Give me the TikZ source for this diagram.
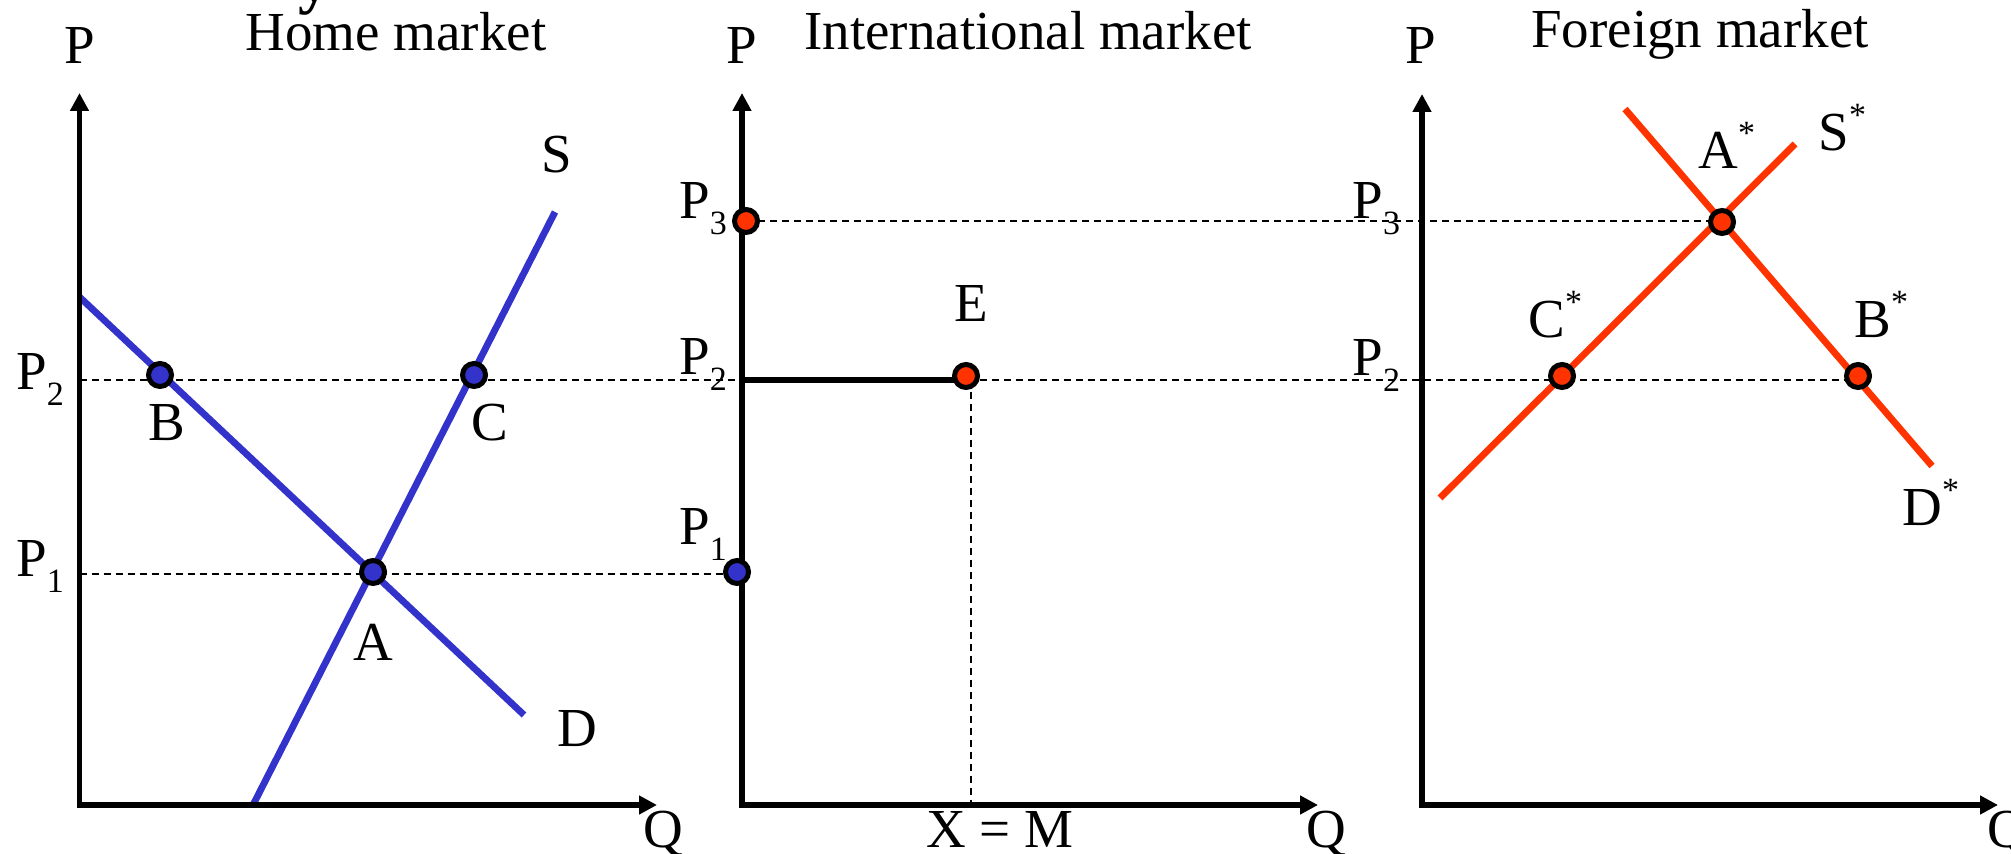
\documentclass[tikz,border=0pt]{standalone}
\usepackage{fontspec}
\setmainfont{Liberation Serif}
\usetikzlibrary{arrows.meta}
\newcommand\sbs[1]{\raisebox{-8pt}{\fontsize{17}{17}\selectfont #1}}
\newcommand\sps{\raisebox{12pt}{\fontsize{17}{17}\selectfont *}}
\definecolor{myblue}{RGB}{51,51,204}
\definecolor{myred}{RGB}{255,51,0}
\begin{document}
\begin{tikzpicture}[x=0.5pt,y=-0.5pt,
  lbl/.style={inner sep=0pt, font=\fontsize{27.5}{30}\selectfont},
  axisln/.style={line width=2.7pt, {Triangle[length=9pt,width=9pt]}-{Triangle[length=9pt,width=9pt]}},
  dashln/.style={line width=1pt, dash pattern=on 3.5pt off 2.5pt},
  bluecurve/.style={line width=3.4pt, draw=myblue},
  redcurve/.style={line width=3.4pt, draw=myred},
  dotb/.style={circle, draw=black, line width=2.5pt, fill=myblue, minimum size=11.5pt, inner sep=0pt},
  dotr/.style={circle, draw=black, line width=2.5pt, fill=myred, minimum size=11.5pt, inner sep=0pt}]
\fill[white] (0,0) rectangle (2011,854);
\useasboundingbox (0,0) rectangle (2011,854);

% title fragment
\node[lbl, anchor=base west, font=\fontsize{32}{32}\bfseries\selectfont] (frag) at (298,2) {y};

% axes coordinates
\coordinate (ho) at (79.5,805); \coordinate (htop) at (79.5,93); \coordinate (hq) at (657,805);
\coordinate (io) at (742,805); \coordinate (itop) at (742,93); \coordinate (iq) at (1318,805);
\coordinate (fo) at (1422,805); \coordinate (ftop) at (1422,94); \coordinate (fq) at (1998,805);

% price level coordinates
\coordinate (h2) at (79.5,380);
\coordinate (h1) at (79.5,574);
\coordinate (i2) at (742,380);
\coordinate (Ev) at (971,380);

% curve end points
\coordinate (Dh1) at (79.5,297); \coordinate (Dh2) at (524,715);
\coordinate (Sh1) at (253,805); \coordinate (Sh2) at (555,212);
\coordinate (Df1) at (1625,109); \coordinate (Df2) at (1932,466);
\coordinate (Sf1) at (1440,498); \coordinate (Sf2) at (1795,144);

% dot positions
\path (1858,376) coordinate (BsC);
\path (1722,222) coordinate (AsC);
\path (737,572) coordinate (P1iC);
\path (746,221) coordinate (P3iC);

% dashed lines
\draw[dashln] (h2) -- (h2 -| BsC);
\draw[dashln] (h1) -- (h1 -| P1iC);
\draw[dashln] (P3iC) -- (P3iC -| AsC);
\draw[dashln] (Ev) -- (Ev |- io);

% solid export line
\draw[line width=2.7pt] (i2) -- (Ev -| 966,0);

% curves
\draw[bluecurve] (Dh1) -- (Dh2);
\draw[bluecurve] (Sh1) -- (Sh2);
\draw[redcurve] (Df1) -- (Df2);
\draw[redcurve] (Sf1) -- (Sf2);

% axes
\draw[axisln] (htop) -- (ho) -- (hq);
\draw[axisln] (itop) -- (io) -- (iq);
\draw[axisln] (ftop) -- (fo) -- (fq);

% dots
\node[dotb] (B) at (160,375) {};
\node[dotb] (C) at (474,375) {};
\node[dotb] (A) at (373,572) {};
\node[dotb] (P1i) at (P1iC) {};
\node[dotr] (P3i) at (P3iC) {};
\node[dotr] (E) at (966,376) {};
\node[dotr] (As) at (AsC) {};
\node[dotr] (Cs) at (1562,376) {};
\node[dotr] (Bs) at (BsC) {};

% titles
\node[lbl, anchor=base] (th) at (396,51) {Home market};
\node[lbl, anchor=base] (ti) at (1028,50) {International market};
\node[lbl, anchor=base] (tf) at (1700,48) {Foreign market};

% axis labels
\node[lbl, anchor=base] (ph) at (80,64) {P};
\node[lbl, anchor=base] (pi) at (742,64) {P};
\node[lbl, anchor=base] (pf) at (1421,64) {P};
\node[lbl, anchor=base west] (qh) at (643,847) {Q};
\node[lbl, anchor=base west] (qi) at (1306,847) {Q};
\node[lbl, anchor=base west] (qf) at (1987,847) {Q};

% price labels
\node[lbl, anchor=base west] (lh2) at (16,390) {P\sbs{2}};
\node[lbl, anchor=base west] (lh1) at (16,577) {P\sbs{1}};
\node[lbl, anchor=base west] (li3) at (679,219) {P\sbs{3}};
\node[lbl, anchor=base west] (li2) at (679,375) {P\sbs{2}};
\node[lbl, anchor=base west] (li1) at (679,545) {P\sbs{1}};
\node[lbl, anchor=base west] (lf3) at (1352,219) {P\sbs{3}};
\node[lbl, anchor=base west] (lf2) at (1352,376) {P\sbs{2}};

% point labels
\node[lbl, anchor=base] (lS) at (557,173) {S};
\node[lbl, anchor=base] (lB) at (167,441) {B};
\node[lbl, anchor=base] (lC) at (490,441) {C};
\node[lbl, anchor=base] (lA) at (373,661) {A};
\node[lbl, anchor=base] (lD) at (577,746) {D};
\node[lbl, anchor=base] (lE) at (971,322) {E};
\node[lbl, anchor=base] (lXM) at (1000,847) {X = M};
\node[lbl, anchor=base west] (lAs) at (1698,169) {A\sps};
\node[lbl, anchor=base west] (lSs) at (1818,151) {S\sps};
\node[lbl, anchor=base west] (lCs) at (1528,338) {C\sps};
\node[lbl, anchor=base west] (lBs) at (1854,338) {B\sps};
\node[lbl, anchor=base west] (lDs) at (1902,526) {D\sps};
\end{tikzpicture}
\end{document}
